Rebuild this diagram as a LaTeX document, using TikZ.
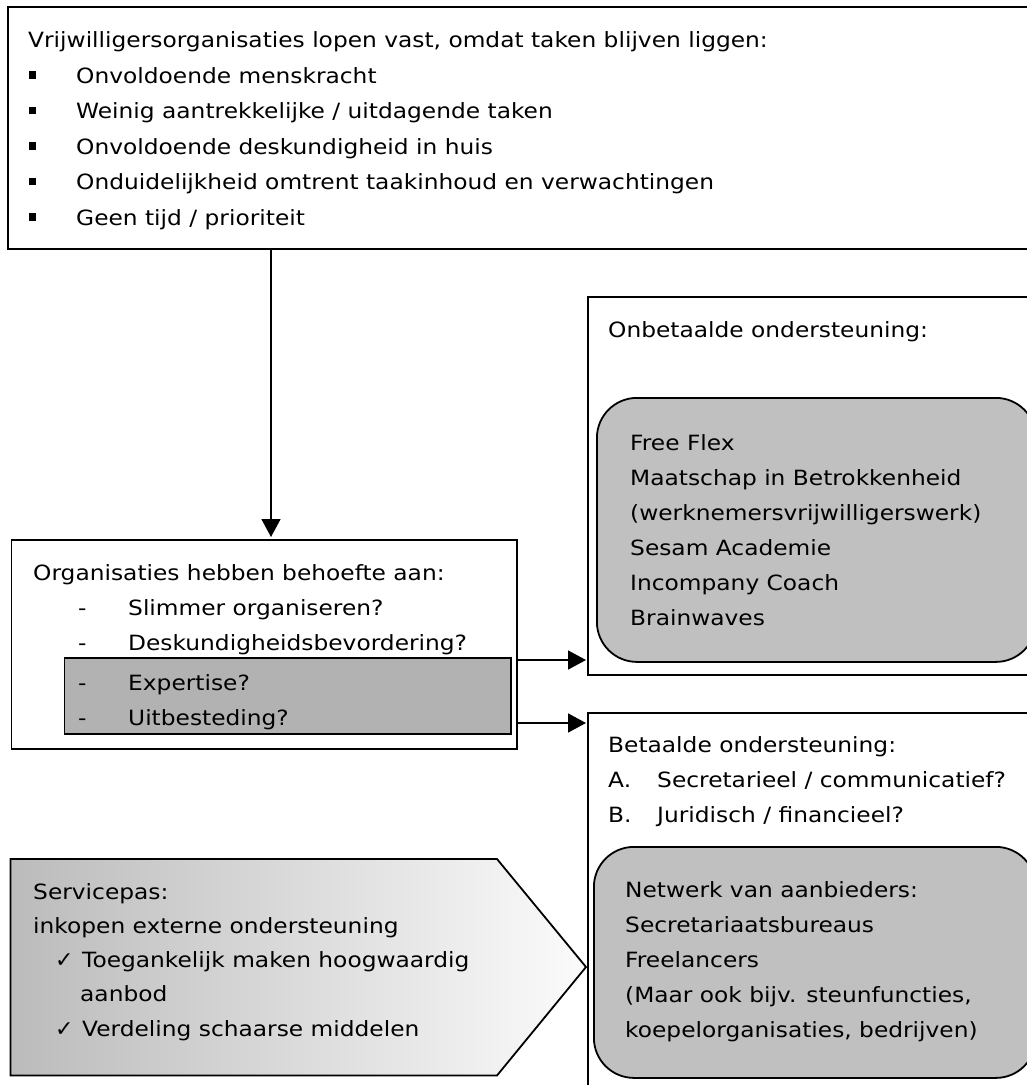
\documentclass[tikz,border=0pt]{standalone}
\usepackage{fontspec}
\setmainfont{DejaVu Sans}[FakeStretch=1.11]
\newfontfamily\chkfam{DejaVu Sans}
\usetikzlibrary{arrows.meta}
\definecolor{boxgray}{HTML}{B2B2B2}
\definecolor{roundgray}{HTML}{C0C0C0}
\definecolor{gradl}{HTML}{BBBBBB}
\definecolor{gradr}{HTML}{FBFBFB}
\newcommand\mf{\fontsize{21}{35}\selectfont}
\begin{document}
\begin{tikzpicture}[x=1pt,y=-1pt,
  frame/.style={draw=black, line width=1.8pt, rectangle, inner sep=0pt, anchor=north west},
  txt/.style={anchor=base west, inner sep=0pt, font=\mf},
  chk/.style={anchor=base west, inner sep=0pt, font=\chkfam\fontsize{22}{30}\selectfont},
  arr/.style={-{Triangle[length=18pt,width=19pt]}, line width=1.6pt},
  bul/.style={fill=black, inner sep=0pt, minimum width=6.5pt, minimum height=7.5pt}]
\useasboundingbox (0,0) rectangle (1027,1085);
\fill[white] (0,0) rectangle (1027,1085);
\clip (0,0) rectangle (1027,1085);

% boxes
\node[frame, minimum width=1040pt, minimum height=242pt] (top) at (7,6) {};
\node[frame, minimum width=505.5pt, minimum height=209pt] (org) at (10.5,539) {};
\node[frame, fill=boxgray, minimum width=446.5pt, minimum height=76pt] (orggray) at (63.5,657) {};
\node[frame, minimum width=500pt, minimum height=378pt] (onb) at (587,296) {};
\node[frame, fill=roundgray, rounded corners=40pt, minimum width=439pt, minimum height=264pt] (onbgray) at (596,397) {};
\node[frame, minimum width=500pt, minimum height=500pt] (bet) at (587,712) {};
\node[frame, fill=roundgray, rounded corners=40pt, minimum width=442pt, minimum height=231pt] (betgray) at (593,846) {};

% pentagon (servicepas)
\path[draw=black, line width=1.8pt, left color=gradl, right color=gradr]
  (10.5,859) -- (497,859) -- (586,967) -- (497,1075.5) -- (10.5,1075.5) -- cycle;

% connectors
\coordinate (vx) at (271,0);
\coordinate (a1) at (0,660);
\coordinate (a2) at (0,723);
\draw[arr, shorten >=2pt] (top.south -| vx) -- (org.north -| vx);
\draw[arr, shorten >=1pt] (org.east |- a1) -- (onb.west |- a1);
\draw[arr, shorten >=1pt] (org.east |- a2) -- (bet.west |- a2);

% top box text
\node[txt] (t0) at (28,47.5) {Vrijwilligersorganisaties lopen vast, omdat taken blijven liggen:};
\node[bul] (b1) at (32.5,75) {};
\node[txt] (t1) at (76,83) {Onvoldoende menskracht};
\node[bul] (b2) at (32.5,110.5) {};
\node[txt] (t2) at (76,118.5) {Weinig aantrekkelijke / uitdagende taken};
\node[bul] (b3) at (32.5,146) {};
\node[txt] (t3) at (76,154) {Onvoldoende deskundigheid in huis};
\node[bul] (b4) at (32.5,181.5) {};
\node[txt] (t4) at (76,189.5) {Onduidelijkheid omtrent taakinhoud en verwachtingen};
\node[bul] (b5) at (32.5,217) {};
\node[txt] (t5) at (76,225) {Geen tijd / prioriteit};

% org box text
\node[txt] (o0) at (33,580) {Organisaties hebben behoefte aan:};
\node[txt] (d1) at (78,615) {-};
\node[txt] (o1) at (128,615) {Slimmer organiseren?};
\node[txt] (d2) at (78,650) {-};
\node[txt] (o2) at (128,650) {Deskundigheidsbevordering?};
\node[txt] (d3) at (78,690) {-};
\node[txt] (o3) at (128,690) {Expertise?};
\node[txt] (d4) at (78,725) {-};
\node[txt] (o4) at (128,725) {Uitbesteding?};

% onbetaalde
\node[txt] (n0) at (608,337) {Onbetaalde ondersteuning:};
\node[txt] (n1) at (630,450) {Free Flex};
\node[txt] (n2) at (630,485) {Maatschap in Betrokkenheid};
\node[txt] (n3) at (630,520) {(werknemersvrijwilligerswerk)};
\node[txt] (n4) at (630,555) {Sesam Academie};
\node[txt] (n5) at (630,590) {Incompany Coach};
\node[txt] (n6) at (630,625) {Brainwaves};

% betaalde
\node[txt] (p0) at (608,752) {Betaalde ondersteuning:};
\node[txt] (pa) at (608,787) {A.};
\node[txt] (p1) at (657,787) {Secretarieel / communicatief?};
\node[txt] (pb) at (608,822) {B.};
\node[txt] (p2) at (657,822) {Juridisch / financieel?};
\node[txt] (q1) at (625,897) {Netwerk van aanbieders:};
\node[txt] (q2) at (625,932) {Secretariaatsbureaus};
\node[txt] (q3) at (625,967) {Freelancers};
\node[txt] (q4) at (625,1002) {(Maar ook bijv. steunfuncties,};
\node[txt] (q5) at (625,1037) {koepelorganisaties, bedrijven)};

% servicepas text
\node[txt] (s0) at (33,899) {Servicepas:};
\node[txt] (s1) at (33,933) {inkopen externe ondersteuning};
\node[chk] (c1) at (55,967.5) {✓};
\node[txt] (s2) at (82,967.5) {Toegankelijk maken hoogwaardig};
\node[txt] (s3) at (80,1001.5) {aanbod};
\node[chk] (c2) at (55,1036) {✓};
\node[txt] (s4) at (82,1036) {Verdeling schaarse middelen};
\end{tikzpicture}
\end{document}
